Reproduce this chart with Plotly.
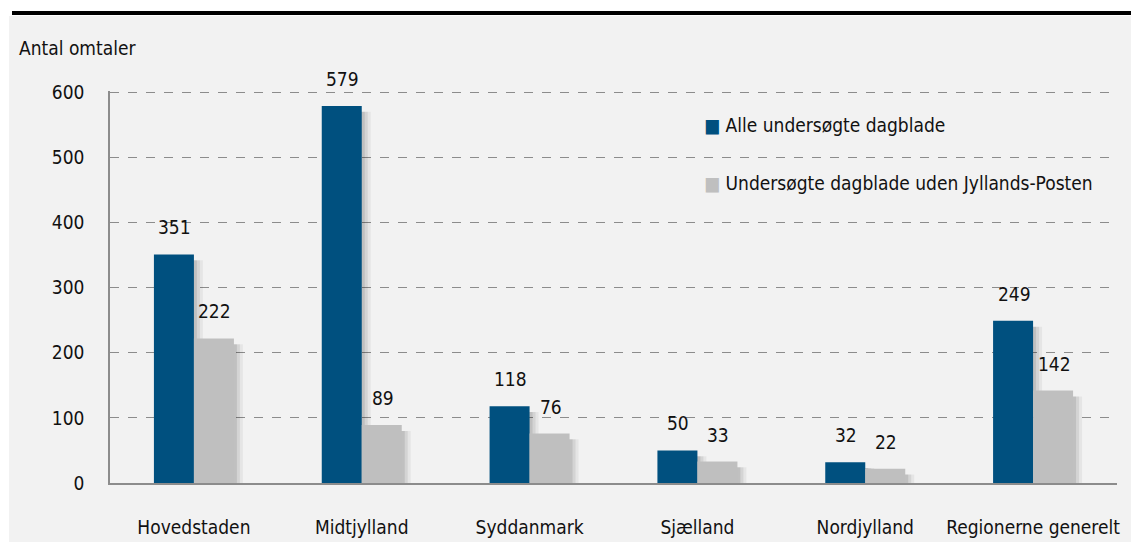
import plotly.graph_objects as go

categories = ["Hovedstaden", "Midtjylland", "Syddanmark", "Sjælland", "Nordjylland", "Regionerne generelt"]
alle = [351, 579, 118, 50, 32, 249]
uden_jp = [222, 89, 76, 33, 22, 142]
series_names = ["Alle undersøgte dagblade", "Undersøgte dagblade uden Jyllands-Posten"]
y_ticks = [0, 100, 200, 300, 400, 500, 600]

FONT = "Liberation Sans Narrow, DejaVu Sans Condensed, Arial Narrow, sans-serif"
BLUE = "#00507F"
GRAY = "#BFBFBF"
FS = 19

W, H = 1131, 545
L, R, T, B = 110, 14, 91, 62
pw, ph = W - L - R, H - T - B

def px(x):
    return (x - L) / pw

def py(y):
    return (H - B - y) / ph

BW = 40 / (pw / 6)  # bar width in category units
SH = 3 / (pw / 6)

fig = go.Figure()
# soft shadows
for vals, off in ((alle, -BW), (uden_jp, 0.0)):
    for k, a in ((3, 0.05), (2, 0.07), (1, 0.09)):
        fig.add_trace(go.Bar(x=categories, y=[v - 9 for v in vals], width=BW, offset=off + k * SH,
                             marker_color=f"rgba(0,0,0,{a})", marker_line_width=0,
                             hoverinfo="skip", showlegend=False))
fig.add_trace(go.Bar(x=categories, y=alle, name=series_names[0], marker_color=BLUE,
                     width=BW, offset=-BW, marker_line_width=0, showlegend=False))
fig.add_trace(go.Bar(x=categories, y=uden_jp, name=series_names[1], marker_color=GRAY,
                     width=BW, offset=0, marker_line_width=0, showlegend=False))

annotations = []
for c, v in zip(categories, alle):
    annotations.append(dict(x=c, y=v, text=str(v), showarrow=False, xshift=-19, yshift=14,
                            yanchor="bottom", font=dict(size=FS, color="#111")))
for c, v in zip(categories, uden_jp):
    annotations.append(dict(x=c, y=v, text=str(v), showarrow=False, xshift=21, yshift=14,
                            yanchor="bottom", font=dict(size=FS, color="#111")))
annotations.append(dict(xref="paper", yref="paper", x=px(17), y=py(48), text="Antal omtaler",
                        showarrow=False, xanchor="left", yanchor="middle",
                        font=dict(size=FS, color="#111")))
# legend
for name, col, yy in ((series_names[0], BLUE, 125), (series_names[1], GRAY, 183)):
    annotations.append(dict(xref="paper", yref="paper", x=px(702), y=py(yy),
                            text=f"<span style='color:{col}'>■</span> {name}",
                            showarrow=False, xanchor="left", yanchor="middle",
                            font=dict(size=FS, color="#111")))

shapes = [
    dict(type="rect", xref="paper", yref="paper", x0=px(9), x1=px(1131), y0=py(542), y1=py(16),
         fillcolor="#F2F2F2", line_width=0, layer="below"),
    dict(type="line", xref="paper", yref="paper", x0=px(12), x1=px(1131), y0=py(13), y1=py(13),
         line=dict(color="black", width=4)),
]

fig.update_layout(
    width=W, height=H,
    margin=dict(l=L, r=R, t=T, b=B, autoexpand=False),
    paper_bgcolor="white",
    plot_bgcolor="rgba(0,0,0,0)",
    barmode="overlay",
    font=dict(family=FONT, size=FS, color="#111"),
    showlegend=False,
    annotations=annotations,
    shapes=shapes,
)
fig.update_xaxes(showline=True, linecolor="#8C8C8C", linewidth=2, showgrid=False, automargin=False,
                 ticks="", ticklabelstandoff=26, range=[-0.5, 5.5])
fig.update_yaxes(range=[0, 602], tickvals=y_ticks, showline=True, linecolor="#8C8C8C", linewidth=1.5,
                 showgrid=True, gridcolor="#8C8C8C", griddash="dash", gridwidth=1, automargin=False,
                 zeroline=False, ticks="", ticklabelstandoff=20)

fig.write_html("out.html", config={"displayModeBar": False},
               post_script="document.body.style.margin='0';document.body.style.overflow='hidden';")
